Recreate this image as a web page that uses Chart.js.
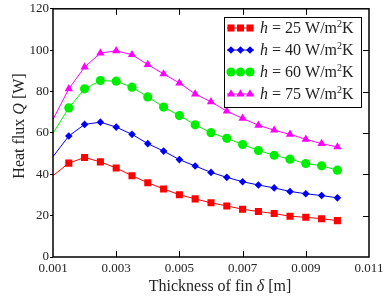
<!DOCTYPE html>
<html>
<head>
<meta charset="utf-8">
<script src="https://cdn.jsdelivr.net/npm/chart.js@4"></script>
<style>
  html, body { margin: 0; padding: 0; background: #fff; }
  #wrap { width: 388px; height: 300px; position: relative; }
</style>
</head>
<body>
<div id="wrap"><canvas id="fluxChart" width="388" height="300"></canvas></div>
<script>
// fin thickness [m]
const thickness = [0.001, 0.0015, 0.002, 0.0025, 0.003, 0.0035, 0.004, 0.0045, 0.005, 0.0055,
                   0.006, 0.0065, 0.007, 0.0075, 0.008, 0.0085, 0.009, 0.0095, 0.01];
// heat flux Q [W] for each h
const h25 = [39.3, 45.4, 48.1, 46.0, 43.0, 39.3, 35.9, 32.9, 30.1, 28.1, 26.2, 24.7, 23.1, 22.0, 21.0, 19.7, 19.2, 18.5, 17.6];
const h40 = [48.5, 58.5, 64.1, 65.2, 62.8, 59.3, 54.8, 51.2, 47.1, 44.0, 40.9, 38.5, 36.4, 34.8, 33.4, 31.7, 30.6, 29.7, 28.6];
const h60 = [59.8, 72.1, 81.3, 85.3, 85.0, 82.1, 77.4, 72.5, 68.4, 63.9, 60.1, 57.4, 54.4, 51.5, 49.2, 47.3, 45.2, 44.1, 42.0];
const h75 = [66.5, 81.3, 91.8, 98.6, 99.7, 97.8, 93.0, 88.5, 84.1, 78.8, 75.0, 70.5, 67.0, 63.7, 61.3, 59.3, 56.9, 54.8, 53.2];
const hValues = ['25', '40', '60', '75'];
const xTicks = [0.001, 0.003, 0.005, 0.007, 0.009, 0.011];
const yTicks = [0, 20, 40, 60, 80, 100, 120];

const serif = '"Liberation Serif", "DejaVu Serif", serif';

function pts(vals) {
  return thickness.map((t, i) => ({ x: t, y: vals[i] }));
}

function makeSet(vals, color, style, r) {
  return {
    label: 'h',
    data: pts(vals),
    borderColor: color,
    backgroundColor: color,
    borderWidth: 1,
    pointStyle: style,
    // no marker on the first point (it sits on the axis)
    pointRadius: c => c.dataIndex === 0 ? 0 : r,
    pointBorderWidth: 0,
    tension: 0
  };
}

const sets = [
  makeSet(h25, '#ff0000', 'rect', 5),
  makeSet(h40, '#0000ee', 'rectRot', 3.8),
  makeSet(h60, '#00ee00', 'circle', 4.6),
  makeSet(h75, '#ff00ff', 'triangle', 4.8)
];

// draw text made of parts with different font styles
function drawParts(ctx, parts, x, y) {
  let cx = x;
  parts.forEach(p => {
    ctx.font = (p.italic ? 'italic ' : '') + p.size + 'px ' + serif;
    ctx.fillText(p.t, cx, y + (p.dy || 0));
    cx += ctx.measureText(p.t).width;
  });
  return cx - x;
}
function partsWidth(ctx, parts) {
  let w = 0;
  parts.forEach(p => {
    ctx.font = (p.italic ? 'italic ' : '') + p.size + 'px ' + serif;
    w += ctx.measureText(p.t).width;
  });
  return w;
}

const decorPlugin = {
  id: 'decor',
  afterDraw(chart) {
    const ctx = chart.ctx;
    const a = chart.chartArea;
    const xs = chart.scales.x, ys = chart.scales.y;
    ctx.save();
    ctx.strokeStyle = '#000';
    ctx.lineWidth = 1.5;
    ctx.strokeRect(a.left, a.top, a.right - a.left, a.bottom - a.top);

    // inward ticks: bottom, top, right
    ctx.lineWidth = 1;
    ctx.beginPath();
    xTicks.forEach(v => {
      const px = Math.round(xs.getPixelForValue(v)) + 0.5;
      if (px <= a.left + 1 || px >= a.right - 1) return;
      ctx.moveTo(px, a.bottom); ctx.lineTo(px, a.bottom - 6);
      ctx.moveTo(px, a.top); ctx.lineTo(px, a.top + 6);
    });
    yTicks.forEach(v => {
      const py = Math.round(ys.getPixelForValue(v)) + 0.5;
      if (py <= a.top + 1 || py >= a.bottom - 1) return;
      ctx.moveTo(a.right, py); ctx.lineTo(a.right - 6, py);
    });
    ctx.stroke();

    // axis titles
    ctx.fillStyle = '#222';
    ctx.textBaseline = 'middle';
    const xt = [
      { t: 'Thickness of fin ', size: 16 },
      { t: 'δ', size: 16, italic: true },
      { t: ' [m]', size: 16 }
    ];
    drawParts(ctx, xt, 220 - partsWidth(ctx, xt) / 2, 287);
    const yt = [
      { t: 'Heat flux ', size: 16 },
      { t: 'Q', size: 16, italic: true },
      { t: ' [W]', size: 16 }
    ];
    ctx.save();
    ctx.translate(20, 126);
    ctx.rotate(-Math.PI / 2);
    drawParts(ctx, yt, -partsWidth(ctx, yt) / 2, 0);
    ctx.restore();

    // legend box
    const lx = 224, ly = 17, lw = 137, lh = 90;
    ctx.fillStyle = '#fff';
    ctx.fillRect(lx, ly, lw, lh);
    ctx.strokeStyle = '#000';
    ctx.lineWidth = 1;
    ctx.strokeRect(lx + 0.5, ly + 0.5, lw, lh);
    sets.forEach((ds, i) => {
      const ry = 28 + i * 22;
      ctx.strokeStyle = ds.borderColor;
      ctx.lineWidth = 1;
      ctx.beginPath();
      ctx.moveTo(227, ry); ctx.lineTo(254, ry);
      ctx.stroke();
      ctx.fillStyle = ds.backgroundColor;
      const r = ds.pointRadius({ dataIndex: 1 });
      [231, 240.5, 250].forEach(mx => {
        Chart.helpers.drawPoint(ctx, { pointStyle: ds.pointStyle, radius: r, rotation: 0, borderWidth: 0 }, mx, ry);
      });
      ctx.fillStyle = '#222';
      drawParts(ctx, [
        { t: 'h', size: 16, italic: true },
        { t: ' = ' + hValues[i] + ' W/m', size: 16 },
        { t: '2', size: 10, dy: -5 },
        { t: 'K', size: 16 }
      ], 260, ry + 1);
    });
    ctx.restore();
  }
};

new Chart(document.getElementById('fluxChart'), {
  type: 'line',
  data: { datasets: sets },
  options: {
    responsive: false,
    animation: false,
    layout: { padding: { top: 7, right: 19, left: 0, bottom: 0 } },
    plugins: { legend: { display: false }, tooltip: { enabled: false } },
    scales: {
      x: {
        type: 'linear',
        min: 0.001, max: 0.011,
        afterBuildTicks: s => { s.ticks = xTicks.map(v => ({ value: v })); },
        afterFit: s => { s.height = 43; },
        border: { display: false },
        grid: { display: false, drawTicks: false },
        ticks: {
          padding: 4,
          color: '#222',
          font: { family: serif, size: 13 },
          maxRotation: 0,
          callback: v => v.toFixed(3)
        }
      },
      y: {
        min: 0, max: 120,
        afterBuildTicks: s => { s.ticks = yTicks.map(v => ({ value: v })); },
        afterFit: s => { s.width = 53; },
        border: { display: false },
        grid: { drawOnChartArea: false, tickLength: 3, color: '#000' },
        ticks: {
          padding: 1,
          color: '#222',
          font: { family: serif, size: 13 }
        }
      }
    }
  },
  plugins: [decorPlugin]
});
</script>
</body>
</html>
